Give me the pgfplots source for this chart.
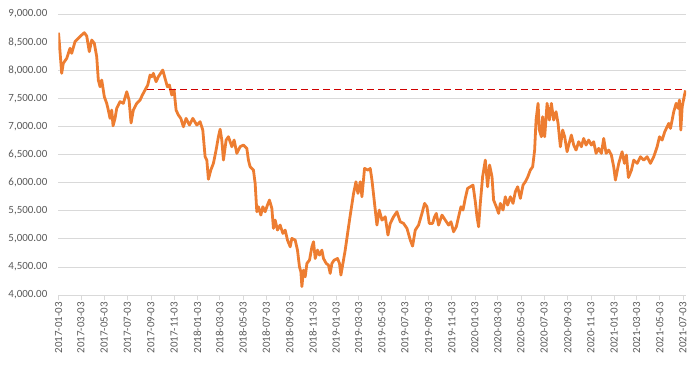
\documentclass[border=0pt]{standalone}
\usepackage{pgfplots}
\pgfplotsset{compat=1.18}
\usepackage{pgfplotstable}
\usepackage{fontspec}
\setmainfont{Carlito}
\definecolor{xlorange}{HTML}{ED7D31}
\definecolor{xlgrid}{HTML}{D9D9D9}
\definecolor{xltext}{HTML}{595959}
\definecolor{dashred}{HTML}{D00000}
\pgfplotstableread{
d v
0 8667
1.3 8570
8.4 7944
12.6 8122
21.6 8211
30.3 8390
34.7 8300
43.4 8507
52.1 8567
61.0 8626
67.9 8667
74.2 8608
81.0 8330
87.4 8537
94.2 8478
100.5 8240
104.7 7825
109.2 7706
113.7 7825
120.5 7528
126.8 7410
131.0 7291
135.5 7143
140.0 7291
143.4 7010
148.7 7143
153.1 7321
161.8 7440
170.5 7410
179.5 7617
185.5 7469
190.8 7060
196.8 7291
205.8 7410
214.5 7469
220.5 7558
227.6 7647
234.7 7736
240.8 7914
245.2 7884
249.5 7944
256.6 7795
262.6 7884
274.2 8003
280.2 7854
286.3 7706
291.6 7736
297.9 7558
303.9 7647
309.2 7291
315.2 7202
321.6 7143
328.4 6994
335.5 7143
344.2 7024
353.1 7143
363.7 7024
372.3 7084
379.4 6935
385.5 6460
390.0 6401
394.2 6060
400.5 6223
407.3 6342
414.4 6579
420.5 6816
425.0 6950
429.4 6757
433.7 6401
440.8 6757
446.8 6816
455.8 6638
461.8 6757
468.9 6520
477.6 6638
486.3 6668
495.2 6609
499.4 6401
503.9 6282
512.6 6223
517.1 5985
521.5 5481
525.8 5570
532.1 5422
537.3 5570
543.4 5481
549.4 5600
554.7 5689
561.0 5541
565.2 5185
569.7 5333
575.8 5155
582.8 5244
590.0 5096
596.0 5155
602.1 4977
609.2 4858
613.6 5007
622.3 4977
628.4 4799
633.6 4502
637.3 4413
640.0 4150
644.2 4443
648.7 4324
653.2 4562
660.0 4621
666.3 4858
670.6 4947
675.0 4650
681.1 4799
686.3 4710
692.6 4799
696.8 4650
703.9 4562
709.9 4532
714.4 4384
718.9 4562
724.9 4621
733.6 4650
738.9 4562
742.6 4354
753.9 4799
765.2 5333
775.7 5800
782.1 6015
787.4 5808
793.4 6015
797.9 5748
804.7 6252
813.7 6223
819.7 6252
824.2 6045
831.0 5630
837.3 5244
843.4 5511
850.5 5333
859.2 5392
866.3 5066
872.3 5274
881.0 5392
889.9 5481
898.6 5303
907.3 5274
916.3 5185
925.0 4977
931.0 4870
938.1 5155
946.8 5244
955.7 5452
962.6 5630
968.9 5570
974.9 5274
983.6 5274
988.9 5392
993.4 5452
999.4 5244
1008.4 5422
1017.0 5333
1025.7 5244
1032.0 5303
1038.9 5125
1046.0 5214
1052.0 5392
1058.3 5570
1063.6 5511
1069.6 5719
1075.7 5897
1082.8 5926
1089.9 5956
1096.0 5659
1100.4 5392
1104.7 5214
1109.1 5630
1115.2 6104
1122.3 6401
1128.3 5926
1133.6 6312
1139.9 6104
1144.1 5689
1151.2 5570
1157.3 5452
1161.8 5630
1168.9 5511
1174.9 5748
1181.0 5600
1188.1 5748
1195.2 5630
1201.2 5837
1207.3 5926
1214.4 5719
1221.5 5956
1227.5 6015
1234.1 6104
1240.7 6223
1246.8 6282
1252.0 6579
1255.7 7113
1261.0 7410
1264.4 6935
1269.7 6816
1273.1 7173
1278.4 6816
1284.7 7410
1290.7 7113
1296.0 7410
1302.0 7113
1308.3 7262
1313.6 7054
1319.7 6638
1325.7 6935
1331.0 6816
1337.3 6549
1341.5 6668
1348.6 6846
1354.7 6668
1360.9 6579
1367.8 6727
1374.9 6638
1380.9 6786
1387.2 6668
1394.1 6757
1401.2 6668
1407.2 6727
1413.6 6520
1420.4 6609
1427.5 6520
1433.6 6786
1439.9 6520
1446.8 6579
1453.8 6490
1459.9 6282
1464.4 6045
1473.1 6342
1482.0 6549
1488.1 6342
1493.3 6490
1498.6 6090
1506.5 6223
1512.6 6401
1521.5 6342
1530.2 6460
1538.9 6401
1547.8 6460
1556.5 6342
1565.2 6460
1574.1 6638
1580.2 6816
1587.2 6757
1594.1 6905
1600.4 6994
1604.6 7054
1609.1 6964
1613.5 7113
1617.8 7262
1624.1 7410
1629.4 7321
1632.8 7469
1636.3 6935
1640.0 7350
1643.3 7469
1648.6 7640
}\prices
\pgfplotstableread{
d v
232.9 7655
1648.6 7655
}\refline
\begin{document}
\begin{tikzpicture}
\begin{axis}[
  scale only axis,
  width=627.5bp, height=281bp,
  xmin=0, xmax=1650,
  ymin=4000, ymax=9000,
  ytick={4000,4500,...,9000},
  xtick={0,59,120,181,243,304,365,424,485,546,608,669,730,789,850,911,973,1034,1095,1155,1216,1277,1339,1400,1461,1520,1581,1642},
  xticklabels={2017-01-03,2017-03-03,2017-05-03,2017-07-03,2017-09-03,2017-11-03,2018-01-03,2018-03-03,2018-05-03,2018-07-03,2018-09-03,2018-11-03,2019-01-03,2019-03-03,2019-05-03,2019-07-03,2019-09-03,2019-11-03,2020-01-03,2020-03-03,2020-05-03,2020-07-03,2020-09-03,2020-11-03,2021-01-03,2021-03-03,2021-05-03,2021-07-03},
  axis x line*=bottom,
  axis y line*=left,
  y axis line style={draw=none},
  x axis line style={draw=xlgrid, line width=0.8bp},
  ymajorgrids,
  grid style={xlgrid, line width=0.8bp},
  ytick style={draw=none},
  xtick style={draw=xlgrid, line width=0.8bp},
  tick align=outside,
  major tick length=5bp,
  /pgf/number format/assume math mode=true,
  yticklabel={\pgfmathprintnumber[fixed,fixed zerofill,precision=2,1000 sep={,}]{\tick}},
  ticklabel style={font=\fontsize{11}{13}\selectfont, text=xltext},
  xticklabel style={rotate=90, anchor=east, inner sep=2bp},
  yticklabel style={inner sep=2bp, xshift=-4bp},
]
\addplot[xlorange, line width=2.8bp, line join=round] table[x=d, y=v] {\prices};
\addplot[dashred, line width=1.5bp, dash pattern=on 7bp off 4bp] table[x=d, y=v] {\refline};
\end{axis}
\pgfresetboundingbox
\path[use as bounding box] ([xshift=-58.5bp,yshift=-73bp]current axis.south west) rectangle ([xshift=14bp,yshift=14bp]current axis.north east);
\end{tikzpicture}
\end{document}
